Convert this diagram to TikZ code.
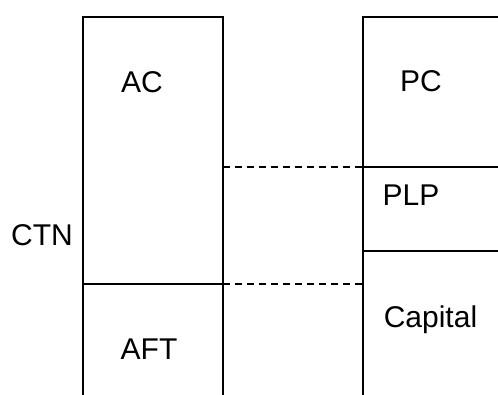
\documentclass[tikz,border=0pt]{standalone}
\usepackage{fontspec}
\setmainfont{Liberation Sans}
\begin{document}
\begin{tikzpicture}[x=1pt,y=-1pt,
  lbl/.style={anchor=base,inner sep=0pt,font=\fontsize{30}{35}\selectfont},
  solidline/.style={line width=1.7pt,line cap=rect},
  dashline/.style={line width=1.3pt,dash pattern=on 7pt off 5pt}]
\useasboundingbox (0,0) rectangle (498,394);
\clip (0,0) rectangle (498,394);
% left column
\coordinate (LTL) at (83,17);
\coordinate (LTR) at (223,17);
\coordinate (LBL) at (83,400);
\coordinate (LBR) at (223,400);
\coordinate (LML) at (83,284);
\coordinate (LMR) at (223,284);
\draw[solidline] (LBL) -- (LTL) -- (LTR) -- (LBR);
\draw[solidline] (LML) -- (LMR);
% right column
\coordinate (RTL) at (363,17);
\coordinate (RTR) at (500,17);
\coordinate (RBL) at (363,400);
\coordinate (R1L) at (363,167);
\coordinate (R1R) at (500,167);
\coordinate (R2L) at (363,251);
\coordinate (R2R) at (500,251);
\draw[solidline] (RBL) -- (RTL) -- (RTR);
\draw[solidline] (R1L) -- (R1R);
\draw[solidline] (R2L) -- (R2R);
% dashed links
\coordinate (DU) at (223,167);
\coordinate (DL) at (223,284);
\coordinate (DUr) at (363,284);
\draw[dashline] (DU) -- (R1L);
\draw[dashline] (DL) -- (DUr);
% labels
\node[lbl] (ac) at (142,92.5) {AC};
\node[lbl] (aft) at (149,359) {AFT};
\node[lbl] (ctn) at (42,245) {CTN};
\node[lbl] (pc) at (421,91.5) {PC};
\node[lbl] (plp) at (411,205) {PLP};
\node[lbl] (cap) at (430.5,327) {Capital};
\end{tikzpicture}
\end{document}
